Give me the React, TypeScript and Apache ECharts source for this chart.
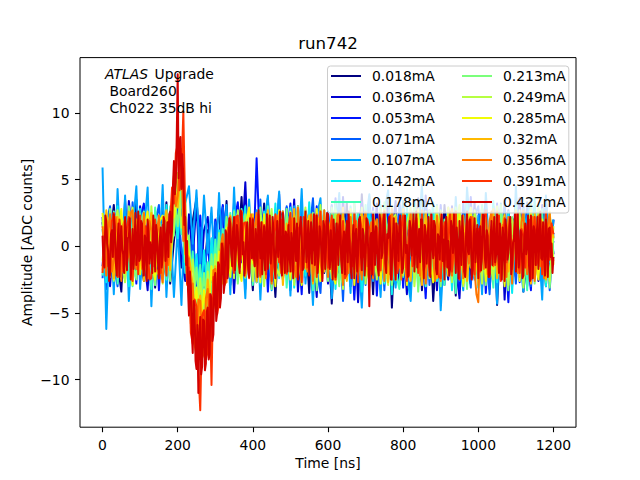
// Pulse scan of one channel: amplitude vs time for 14 injected currents, jet colours,
// legend in two columns over the plot, like the matplotlib original.
import { useEffect, useRef } from 'react'
import * as echarts from 'echarts'

const FONT = 'DejaVu Sans'

const currentLabels = [
  '0.018mA', '0.036mA', '0.053mA', '0.071mA', '0.107mA', '0.142mA', '0.178mA',
  '0.213mA', '0.249mA', '0.285mA', '0.32mA', '0.356mA', '0.391mA', '0.427mA',
]

const jetColors = [
  '#000080', '#0000d1', '#0014ff', '#005cff', '#00a4ff', '#06ecf1', '#41ffb6',
  '#7bff7b', '#b6ff41', '#f1fc06', '#ffb900', '#ff7500', '#ff3200', '#d20000',
]

const xTicks = [0, 200, 400, 600, 800, 1000, 1200]
const yTicks = [-10, -5, 0, 5, 10]

// samples every 10 ns (0..1200)
const wave018 = [
  1.8, -2.1, 0.6, 3.1, -1.2, -3.4, 2.4, 0.3, -1.9, 3.5,
  -0.8, -2.6, 1.5, 2.2, -3.1, 0.9, -1.4, 3.3, -2.8, 0.4,
  2.7, -1.6, 0.8, -3.2, 1.9, 3.6, -0.7, -2.4, 1.2, -3.6,
  0.5, 2.9, -1.8, 3.4, -2.9, 1.1, -0.4, 3.7, -2.2, 0.8,
  -3.3, 2.1, -1.0, 3.2, -2.5, 0.6, -3.8, 1.7, 2.6, -1.3,
  0.2, -2.7, 3.0, -1.5, 1.4, -3.5, 2.3, -0.6, 3.1, -2.0,
  0.9, -4.3, 1.6, 2.8, -1.7, 3.3, -3.0, 0.5, -2.2, 3.9,
  -1.1, 1.8, -3.6, 2.5, 0.1, -2.4, 3.4, -4.6, 1.3, -0.8,
  2.9, -2.6, 0.7, -1.5, 3.6, -3.3, 1.0, 2.2, -4.1, 0.4,
  -2.0, 3.1, -0.9, 1.9, -3.7, 2.6, -1.3, 3.5, -2.8, 0.6,
  1.6, -3.1, 2.4, -0.5, 3.0, -4.4, 1.2, -1.8, 2.7, -2.3,
  0.3, 3.2, -3.4, 1.5, -0.7, 2.9, -2.5, 0.8, -3.0, 1.9,
  -0.6,
]
const wave036 = [
  -1.5, 2.3, -3.0, 0.9, 2.8, -1.1, -2.5, 3.4, 0.2, -2.0,
  3.0, -0.6, -3.3, 1.8, 0.7, -2.2, 3.1, -1.4, 0.5, 2.6,
  1.5, -1.0, -2.6, 2.4, -0.9, 3.3, -3.1, 1.2, 2.2, -1.8,
  -2.9, 0.6, 3.0, -1.6, 2.0, -3.5, 1.4, -0.3, 4.8, -2.1,
  1.1, -2.7, 2.5, -0.8, 3.6, -3.0, 0.4, 1.9, -2.4, 2.9,
  -1.2, 3.5, -3.4, 0.8, -1.7, 2.6, -0.2, -3.8, 2.1, 1.0,
  -2.8, 3.0, -0.5, -2.2, 3.7, -1.6, 0.6, 2.3, -4.2, 1.4,
  2.7, -1.9, -0.4, 3.2, -3.2, 1.7, -2.1, 0.9, 3.4, -2.9,
  0.3, -3.6, 2.6, 1.3, -1.0, -2.7, 3.8, -0.7, 1.6, -3.3,
  2.4, 0.2, -2.5, 3.0, -1.4, -3.9, 2.0, 0.5, -1.7, 3.3,
  -2.6, 1.1, 3.4, -3.2, 0.6, -1.5, 2.8, -4.0, 1.9, 0.1,
  -2.3, 3.6, -1.0, -3.0, 2.2, 0.9, -2.6, 3.1, -0.3, -1.9,
  2.0,
]
const wave053 = [
  2.2, -3.2, 1.0, -0.4, 2.9, -2.3, 3.5, -1.0, 0.7, -2.8,
  2.0, 3.2, -1.7, -0.6, 2.5, -3.3, 1.3, 0.4, -2.0, 3.0,
  1.4, 2.8, -0.8, -2.5, 1.1, -3.0, 2.3, -1.8, 0.1, -2.6,
  2.0, -1.3, 3.1, -0.5, -2.6, 1.8, 3.3, -1.2, 0.6, 2.4,
  -2.2, 6.6, -0.9, 2.7, -3.4, 1.5, -1.1, 3.9, -2.5, 0.8,
  3.2, -2.0, 0.4, -3.6, 2.7, 1.2, -2.8, 3.0, -0.7, -1.9,
  2.5, -3.0, 3.6, -1.4, 0.5, -2.3, 2.0, -4.0, 1.1, 3.3,
  -2.4, 0.7, 2.9, -3.7, 1.6, -0.9, 3.5, -2.2, -0.1, 2.3,
  -3.1, 1.8, -1.2, 3.4, -2.5, 0.6, -3.9, 2.7, 1.0, -1.6,
  3.1, -2.9, 0.8, -0.4, 2.6, -3.2, 1.5, -1.9, 3.7, -2.4,
  0.5, 2.9, -3.5, 1.4, -0.8, 3.2, -2.0, 0.9, -4.2, 2.1,
  1.7, -2.7, 3.0, -0.6, -3.3, 2.4, 1.2, -2.1, 3.5, -1.0,
  0.4,
]
const wave071 = [
  -2.4, 1.6, 3.0, -1.3, -3.0, 2.1, 0.4, -2.6, 3.3, -0.5,
  -1.9, 2.7, 0.2, -3.4, 1.7, 3.1, -1.1, -2.3, 2.5, 1.6,
  3.2, -0.3, -1.2, -3.5, 0.6, -2.8, 1.4, -3.1, 0.9, -1.6,
  1.8, -2.1, 2.9, 0.3, -2.7, 3.4, -1.5, 1.0, -3.2, 2.2,
  0.6, -2.4, 3.5, -1.8, 1.3, -3.1, 2.6, 0.1, -2.0, 3.0,
  -3.3, 1.5, -0.6, 2.8, -2.3, 0.9, 3.6, -1.7, -3.5, 1.9,
  0.4, 3.1, -2.6, 1.2, -4.1, 2.4, -0.8, 3.0, -1.9, 0.7,
  -2.9, 3.7, -1.3, 0.8, 2.2, -3.3, 1.7, -0.5, -2.4, 3.3,
  1.4, -2.0, -3.4, 2.5, 0.3, -1.8, 3.2, -2.9, 0.9, 2.0,
  -3.7, 1.1, 2.8, -1.5, 0.6, -2.6, 3.4, -0.9, -3.1, 2.3,
  3.0, -1.2, 0.4, -3.6, 2.1, 1.2, -2.5, 3.5, -1.7, 0.8,
  -2.8, 2.0, -0.4, 3.3, -3.0, 1.3, 0.5, -2.4, 2.7, -3.3,
  1.0,
]
const wave107 = [
  5.9, -6.2, 2.5, -3.6, 4.3, -1.8, 3.8, -4.1, 1.2, 4.5,
  -3.2, 0.9, 4.4, -4.5, 2.6, -1.5, 4.6, -3.8, 1.8, -3.8,
  1.5, -4.4, 3.2, 4.5, 0.2, 4.2, -1.5, 3.8, -0.5, 2.9,
  -2.5, 4.0, -1.2, 3.1, -3.6, 4.4, -2.2, 1.1, -3.9, 3.5,
  -0.6, 2.7, -4.0, 1.6, 3.8, -3.3, 0.5, 4.1, -2.4, 1.9,
  -3.7, 3.0, -1.0, 4.3, -2.8, 0.7, -4.4, 2.2, 3.6, -1.6,
  2.6, -3.9, 0.3, 4.0, -2.1, 1.4, -3.5, 3.3, -0.2, -4.6,
  1.7, 3.9, -2.6, 0.8, -3.8, 2.5, 4.2, -1.3, -3.1, 1.0,
  3.4, -2.2, -4.1, 2.0, 0.6, 4.6, -3.0, 1.5, -1.9, 3.1,
  -4.8, 0.4, 2.9, -2.7, 3.7, -1.1, -3.3, 4.4, 0.9, -2.5,
  2.3, -3.6, 4.0, -0.7, 1.8, -4.3, 3.2, -1.5, 2.6, -3.0,
  4.5, -0.8, -3.4, 2.1, 3.5, -2.0, 0.7, -4.0, 3.8, -1.2,
  2.0,
]
const wave142 = [
  1.3, -2.7, 2.2, -0.4, 3.0, -1.9, 0.8, -3.0, 2.5, -0.9,
  2.8, -1.6, 0.2, 2.4, -2.9, 1.6, -0.8, 3.1, -1.7, 3.2,
  0.6, 4.1, -2.0, 0.5, -4.3, -0.6, -4.5, -0.3, -3.8, 0.6,
  -3.1, 1.2, -2.4, 2.0, -1.5, 2.7, -2.6, 0.9, 3.0, -2.2,
  1.7, -0.5, -2.8, 2.6, 0.4, -1.8, 3.2, -2.4, 1.1, -0.3,
  2.9, -3.1, 0.7, 1.9, -2.2, 3.3, -1.0, -2.7, 2.3, 0.5,
  -1.4, 2.7, -3.2, 1.3, 0.1, -2.5, 3.0, -0.9, 2.0, -3.4,
  0.8, 2.5, -1.7, -0.5, 3.1, -2.8, 1.6, -3.6, 2.2, 0.3,
  -2.3, 3.0, -0.7, 1.4, -3.0, 2.6, -1.2, 0.6, 3.3, -2.6,
  1.0, -2.0, 2.7, -3.3, 0.4, 1.8, -2.5, 3.2, -1.5, 0.2,
  -3.1, 2.3, 0.8, -1.9, 3.4, -2.7, 1.2, -0.4, 2.5, -3.5,
  1.9, -1.1, 2.8, 0.3, -2.4, 3.6, -1.8, 0.7, -3.0, 2.4,
  -0.5,
]
const wave178 = [
  -2.2, 1.8, -0.6, 2.6, -2.8, 0.9, 2.2, -1.6, -3.0, 1.5,
  2.4, -2.0, 0.6, -3.2, 2.9, -0.8, 1.7, -2.5, 3.0, 0.8,
  4.6, 0.9, 2.3, -3.4, -0.4, -4.8, -1.4, -5.0, -1.2, -3.6,
  0.5, -3.1, 1.3, -2.2, 2.5, -1.3, 0.2, 2.8, -2.4, 1.1,
  -2.9, 2.0, 0.7, -1.5, 3.0, -2.3, 1.2, -0.6, 2.6, -3.1,
  1.5, -1.0, 2.9, -2.6, 0.3, 2.2, -3.3, 1.0, -0.8, 2.7,
  -2.1, 0.8, 3.2, -1.8, -2.9, 1.7, 0.4, -2.4, 2.5, -1.2,
  3.1, -3.0, 1.4, -0.5, 2.3, -2.7, 0.9, 2.8, -1.9, -3.2,
  2.0, 0.6, -2.2, 3.3, -1.4, 0.3, -3.0, 2.4, 1.0, -2.0,
  2.7, -2.9, 0.5, 1.6, -3.5, 2.9, -0.7, -1.8, 2.2, 0.9,
  -2.6, 3.1, -1.1, 0.4, -3.1, 1.9, 2.6, -2.3, 0.6, -1.5,
  3.0, -2.4, 1.3, -3.3, 2.1, 0.2, -1.8, 2.8, -2.7, 1.2,
  -0.9,
]
const wave213 = [
  2.0, -1.4, 2.8, -2.6, 0.5, 1.9, -2.2, 3.0, -0.9, -2.5,
  1.6, 2.6, -1.8, 0.4, -2.9, 2.3, -0.3, 1.4, -2.6, 4.2,
  1.5, 5.0, -1.2, 0.8, -4.6, -1.6, -5.6, -2.0, -5.4, -0.6,
  -3.9, 1.0, -2.5, 2.2, -1.7, 2.6, -2.8, 0.6, 2.4, -2.0,
  0.9, -2.7, 2.9, -0.7, 1.6, -3.2, 2.3, 0.3, -2.4, 2.8,
  -1.2, 0.6, 3.0, -2.8, 1.4, -0.9, 2.5, -3.3, 1.8, 0.1,
  -2.6, 2.9, -0.4, -3.0, 2.2, 1.1, -1.8, 3.2, -2.3, 0.7,
  1.5, -3.1, 2.6, -0.9, -2.2, 3.3, 0.5, -2.9, 1.8, -1.0,
  2.4, -2.5, 0.8, 3.0, -3.4, 1.2, -0.2, 2.7, -2.1, 0.5,
  -3.0, 2.0, 1.3, -2.6, 2.9, -1.4, 0.6, -3.2, 2.5, 1.0,
  -1.9, 2.8, -2.9, 0.9, 1.9, -2.3, 3.1, -0.8, -3.3, 2.2,
  0.4, -2.0, 2.6, -1.3, 3.2, -2.8, 1.1, -0.5, 2.3, -3.1,
  0.8,
]
const wave249 = [
  -1.1, 2.4, -2.3, 1.3, 2.7, -0.8, -2.7, 1.7, 2.9, -1.6,
  -0.4, 2.2, -2.4, 3.0, -1.3, 0.6, -2.8, 2.6, -0.9, 1.3,
  5.5, 1.4, 3.6, -3.6, -1.0, -6.0, -2.4, -6.3, -1.9, -4.8,
  -0.6, -3.6, 0.8, -2.0, 1.9, -2.4, 2.7, -0.5, -2.1, 2.5,
  -2.6, 1.0, 2.3, -3.0, 0.4, 2.8, -1.5, -2.2, 1.7, 0.2,
  2.6, -2.9, 1.1, -0.3, 2.9, -2.1, 0.8, -2.7, 3.1, -1.4,
  0.5, -2.4, 2.7, 1.2, -3.2, 0.3, 2.5, -1.7, -0.6, 2.9,
  -2.8, 1.3, 0.2, -2.5, 2.8, -1.3, -2.9, 1.9, 2.4, -0.7,
  -2.2, 1.7, 2.9, -3.0, 0.6, -1.5, 2.6, -2.4, 0.9, 3.0,
  -1.8, -0.5, 2.2, -2.7, 1.5, 3.1, -3.0, 0.2, -1.6, 2.7,
  0.7, -2.8, 2.4, -1.1, -2.5, 3.0, -0.5, 1.6, -2.9, 2.0,
  -1.2, 2.7, -3.1, 0.8, 1.6, -2.4, 3.1, -1.7, 0.4, -2.6,
  1.5,
]
const wave285 = [
  2.5, -0.9, 1.6, -2.5, 0.7, 2.8, -1.7, 0.2, -2.9, 2.0,
  -2.1, 1.1, 2.6, -1.2, -2.5, 1.8, 2.3, -2.0, 1.9, 2.2,
  4.0, 5.8, 1.4, -0.5, -5.6, -3.1, -6.8, -3.3, -6.4, -1.5,
  -4.6, -0.4, -2.8, 1.4, -2.3, 2.2, -1.2, -2.6, 1.5, 2.9,
  -1.3, 0.3, -2.7, 2.4, -0.8, 1.9, -3.0, 2.7, -1.0, 0.8,
  -2.5, 2.3, -0.2, -2.9, 2.5, 1.1, -1.6, 2.8, -2.6, 0.4,
  1.9, -1.9, -2.8, 2.3, 0.9, -1.2, 2.8, -2.9, 1.3, -0.3,
  2.5, -2.2, 0.6, 2.0, -2.8, 1.0, -0.7, 2.9, -2.5, 1.6,
  0.1, -2.9, 2.2, -1.0, 2.8, -2.3, 1.5, -0.6, -2.7, 2.4,
  1.2, -2.0, 2.9, -1.6, -0.4, 2.5, -2.8, 1.7, 2.9, -2.2,
  -0.7, 2.1, -2.6, 1.4, -1.7, 2.6, 0.5, -3.0, 1.8, -0.3,
  2.4, -2.6, 0.9, -1.8, 2.7, -0.6, -2.5, 2.0, -1.3, 2.6,
  -1.4,
]
const wave320 = [
  -1.8, 2.7, -0.3, -2.4, 2.2, 0.6, -2.0, 2.6, -0.7, 1.4,
  2.0, -2.6, 0.9, 2.5, -1.5, -2.2, 1.3, 2.7, -1.8, 4.8,
  2.9, 6.4, -0.6, -0.8, -2.9, -7.4, -3.7, -7.3, -2.5, -5.9,
  -1.5, -3.7, 0.7, -2.2, 2.3, -1.8, 0.6, 2.6, -2.3, -0.2,
  2.4, -2.6, 1.4, -0.6, 2.7, -2.2, 0.3, 2.5, -2.9, 1.7,
  -0.9, 2.8, -2.4, 0.8, -1.7, 2.3, -2.8, 1.2, 2.6, -1.9,
  0.9, 2.2, -2.5, -0.5, 2.9, -2.6, 1.6, 0.3, -2.3, 2.6,
  -1.2, -2.6, 2.4, 1.0, -1.9, 2.7, -2.7, 0.6, 2.2, -1.6,
  2.8, -1.1, -2.6, 1.9, 0.2, -2.9, 2.5, -0.8, 1.5, -2.4,
  2.6, 0.4, -2.2, 2.8, -1.4, -0.2, 2.3, -2.6, 0.8, 1.9,
  -2.9, 2.2, 0.6, -1.6, 2.8, -2.4, 1.1, 2.4, -1.9, -0.6,
  2.7, -2.3, 1.6, 0.3, -2.8, 2.5, -0.9, 1.8, -2.5, 2.2,
  0.6,
]
// samples every 5 ns (0..1200)
const wave356 = [
  1.5, -0.6, -2.2, 1.3, 2.4, -1.9, -1.0, 2.2, 0.8, -0.3, -2.6, 1.6, 2.1, -1.3, -0.4, 2.5, 2.7, -0.9, -1.7, 1.1,
  0.4, -1.7, 2.5, 0.2, -2.4, 1.9, 1.2, -1.5, -0.6, 1.0, 2.3, -1.8, -2.7, 0.6, 0.9, -1.4, 0.2, 3.8, 5.3, 3.0,
  3.8, 6.6, 7.3, 0.4, 1.0, -2.9, -0.9, -5.8, -2.8, -7.4, -8.2, -4.0, -4.1, -8.4, -8.0, -3.9, -3.2, -7.0, -6.5, -1.8,
  -1.7, -4.8, -4.3, 0.1, 0.9, -2.8, -2.7, 1.6, 2.2, -0.8, -1.9, 2.0, 0.4, -1.5, 2.6, 0.7, -2.0, -0.6, 1.3, 2.4,
  -1.0, 1.4, 2.5, -0.9, -2.3, 1.8, 0.7, -2.4, 2.1, 0.3, -2.8, 0.9, 1.5, 2.3, -0.8, -2.0, 2.6, 0.5, -2.1, 1.2,
  0.6, 2.1, -1.4, -2.3, 2.9, 0.2, -2.5, 1.4, 1.2, -1.9, 0.1, 2.4, -2.6, -0.6, 2.4, 1.0, -1.1, -2.4, 2.7, 0.3,
  -2.3, 0.9, 1.6, -1.6, -0.2, 2.3, 2.5, -0.7, -2.9, 1.1, 0.8, -2.0, 2.2, 0.5, -1.7, 1.9, 0.4, -1.3, -2.5, 2.0,
  2.6, -1.5, -0.6, 1.8, -2.4, -0.3, 2.0, -1.8, 1.1, 2.4, -2.6, 0.4, 0.7, -2.1, 2.8, 0.9, -2.2, 1.5, -0.4, -2.5,
  1.8, 0.2, -2.3, 1.4, 2.5, -0.8, -1.4, 2.1, 0.5, -2.2, 2.7, 0.6, -2.8, -0.5, 1.2, 2.4, -0.9, -2.6, 2.3, 0.7,
  -2.6, 1.2, 0.9, -1.5, 1.7, 2.6, -2.2, 0.4, 2.6, -1.9, -0.8, 1.5, -2.4, 0.1, 2.5, -1.3, 0.3, 2.2, -1.8, -3.6,
  -4.2, 0.8, 2.4, -1.7, 0.8, -2.1, 1.9, 2.6, -1.5, 0.3, 2.6, -1.2, -2.5, 1.6, 0.2, -2.3, 2.2, 1.0, -2.8, 0.5,
  1.0, -2.0, -0.3, 1.8, 2.7, -0.6, -2.1, 0.9, 0.6, 2.2, -2.6, -0.8, 2.3, -1.5, 1.3, -2.4, -1.9, 1.6, 2.5, -0.7,
  -1.1,
]
const wave391 = [
  -2.0, 0.7, 1.2, -1.5, -0.5, 1.9, 2.5, -0.8, -2.3, 2.0, 0.6, -1.9, -1.3, 1.4, 2.2, -0.2, -2.6, 0.9, 1.0, -2.1,
  2.3, -0.6, -1.8, 1.5, 0.3, -2.5, -2.4, 1.1, 2.0, 0.5, -0.7, -2.0, 1.6, 0.4, -2.2, 1.8, 1.9, 4.4, 3.2, 7.0,
  7.6, 4.2, 5.4, 10.1, 2.5, -2.8, -1.6, -6.5, -7.3, -4.0, -4.5, -9.3, -12.3, -5.2, -4.8, -8.5, -7.9, -3.6, -10.4, -2.3,
  -2.4, -5.1, -4.2, -0.6, 0.2, -2.9, -2.2, 1.4, 1.3, -1.2, -2.0, 2.2, 2.3, -1.6, -0.5, 1.7, 1.8, -0.9, -2.4, 0.8,
  2.1, -1.5, -0.9, 2.4, -2.2, 0.4, 1.6, -2.1, 0.3, 1.2, -2.6, 0.6, 2.4, -0.3, -1.2, 2.0, 0.9, -1.8, -2.0, 1.5,
  2.5, -1.9, -0.4, 1.1, 1.4, -0.7, -2.7, 2.2, 2.0, -1.6, -1.0, 0.8, 0.7, 2.3, -2.3, -0.2, 2.6, -1.4, 0.1, 1.9,
  -1.6, 0.5, 2.3, -1.2, -2.5, 1.7, 0.9, -0.4, 1.9, -2.4, -2.1, 1.0, 0.2, -1.5, 2.5, 0.6, -2.7, 2.1, 1.2, -0.8,
  -0.5, 2.0, 1.3, -1.7, -2.2, 0.8, 1.4, -0.3, -1.8, 1.6, 2.6, -1.1, 0.4, 2.3, -2.5, 0.5, 1.7, -2.0, -0.9, 1.4,
  2.3, -0.4, -2.6, 1.2, 0.6, -1.5, 1.5, 2.1, -2.0, 0.3, 2.4, -1.8, -1.3, 0.9, -2.2, 1.6, 1.9, -0.7, 0.2, -2.3,
  -2.4, 0.6, 1.8, -1.0, 0.5, 2.4, -1.9, 0.2, 2.6, -1.3, -2.5, 1.1, 1.0, -2.2, -0.6, 1.8, 2.2, -0.3, -2.1, 1.3,
  1.3, -1.9, -0.8, 2.2, 2.7, -0.5, -2.3, 1.0, 0.5, -1.4, 1.6, 2.3, -2.6, 0.4, 2.1, -1.2, -0.2, 1.7, -1.7, 0.6,
  2.4, -0.7, -2.0, 1.3, 0.8, -1.6, 1.5, 2.0, -2.5, 0.1, 2.2, -1.4, -0.7, 1.9, -2.1, 0.4, 2.6, -0.9, -1.0, 1.7,
  0.9,
]
// the top trace: samples every 2.5 ns (0..1200)
const wave427 = [
  0.8, -1.2, -1.6, 2.3, 1.9, 0.2, -0.4, -2.6, -2.1, 0.9, 1.2, -0.8, 2.4, 1.5, -1.0, -2.2, 0.3, 1.7, -2.3, 0.4,
  1.5, -0.3, -0.6, -2.0, 2.2, 1.0, -1.8, 0.6, 0.7, 2.1, -2.5, -0.9, 1.3, -1.7, 0.1, 2.5, -1.4, -0.5, 2.6, -1.1,
  -0.9, 1.9, 1.7, -1.5, -2.2, 0.8, 0.5, -2.6, 2.0, 1.1, -1.3, 0.3, -0.2, -2.0, 2.3, 0.7, -1.9, 1.6, 0.9, -1.2,
  -2.4, 0.6, 1.4, -1.6, -0.7, 2.2, 1.9, -1.1, 0.2, 1.8, -0.8, 2.4, 2.6, 0.3, 1.2, 4.6, 6.4, 3.9, 4.8, 8.3,
  12.9, 5.1, 7.6, 8.2, 4.3, 6.9, 5.2, 1.6, 2.2, -1.4, 0.4, -3.3, -5.2, -1.9, -2.9, -6.4, -8.0, -4.1, -4.8, -8.6,
  -9.2, -5.9, -11.0, -6.8, -5.3, -9.6, -9.0, -5.5, -5.6, -9.3, -8.8, -4.9, -4.6, -8.5, -8.1, -3.6, -3.9, -7.1, -6.6, -2.5,
  -2.0, -5.6, -5.0, -1.2, -1.4, -4.6, -3.9, 0.2, -0.2, -3.5, -2.8, 1.2, 0.9, -2.4, -1.6, 2.1, 1.7, -0.6, -1.5, 1.4,
  2.2, -1.8, -0.4, 1.6, 1.0, -1.1, -2.0, 2.7, 2.5, -0.6, 0.3, -2.2, -1.2, 0.8, 1.8, -1.5, -2.3, 2.1, 0.7, -0.9,
  2.0, -0.7, -1.5, 1.3, 0.4, -2.3, 2.7, 0.5, -0.9, 1.8, -2.1, -0.2, 1.5, -1.8, 0.6, 2.4, -1.7, 0.2, 2.3, -1.3,
  -0.5, 2.2, 1.2, -1.6, -2.4, 0.6, 1.9, -0.8, 0.1, 2.6, -1.3, -2.2, 2.5, 0.3, -2.0, 1.1, 0.8, -1.9, 1.6, -0.4,
  -1.9, 1.0, 0.3, -2.4, 2.1, 0.6, -1.1, 1.7, -2.5, -0.3, 1.4, 2.2, 0.7, -1.8, -1.6, 0.9, 2.6, -1.2, -0.3, 1.9,
  -2.2, 0.5, 1.8, -1.3, 0.5, 2.4, -1.4, -0.1, 2.3, -2.0, -0.8, 1.5, 1.1, -0.6, -2.6, 1.9, 1.5, -1.7, 0.2, 2.5,
  2.4, -0.9, -1.7, 1.2, -0.4, -2.5, 2.0, 0.4, -2.3, 1.7, 0.9, -1.4, 1.6, 2.3, -1.0, -2.0, 0.4, 1.1, -2.1, 0.6,
  1.9, -1.2, 2.6, 0.3, -1.5, -2.4, 0.2, 1.6, -2.4, 0.8, 1.3, -1.9, -0.6, 2.0, 2.2, -0.7, -1.8, 1.3, 0.8, -2.2,
  -0.9, 2.1, 1.7, -1.0, -4.5, 0.6, 1.0, -2.1, 2.4, 0.7, -1.4, 1.5, 0.3, -1.6, -2.2, 2.4, 1.6, -0.9, -0.5, 1.8,
  2.5, -1.3, -2.0, 0.9, 0.6, 2.2, 1.2, -2.5, -1.3, 0.5, 2.1, -0.8, -2.5, 1.7, 0.4, -1.1, 1.8, 2.3, -0.7, -2.0,
  -1.6, 1.2, 2.3, -0.5, 0.1, -2.3, -2.2, 1.9, 1.4, -0.7, 0.8, 2.5, -1.9, 0.2, 2.6, -1.6, -0.4, 1.3, -1.2, 2.0,
  2.0, -0.6, -2.4, 1.6, 1.1, -1.3, 0.3, 2.2, -1.5, -2.3, 2.4, 0.6, -0.9, 1.9, 1.5, -1.7, -2.1, 0.9, 0.6, -1.0,
  1.7, 2.4, -1.1, 0.5, -2.5, 1.3, 2.2, -1.6, 0.4, -2.2, -1.7, 1.9, 1.2, -0.5, 2.5, 0.8, -2.0, 1.4, -0.2, -2.4,
  1.9, 0.2, -1.4, 2.3, 0.7, -1.9, -2.3, 1.0, 2.6, -0.4, -0.6, 2.0, 1.0, -2.5, -1.8, 0.6, 2.1, -1.2, 0.3, 1.6,
  -2.4, 0.9, 1.5, -1.8, -0.3, 2.4, 2.3, -0.9, -1.6, 1.2, 0.8, -2.3, -2.1, 0.5, 1.9, -1.4, 0.5, 2.2, -1.2, -0.6,
  2.4, -0.4, -2.0, 1.7, 0.2, -2.5, 1.4, 0.6, -2.6, 2.0, 1.1, -1.0, -0.5, 1.5, 2.2, -2.1, -1.3, 0.3, 0.6, 2.4,
  -1.9, 0.4, 2.5, -1.6, -0.8, 1.2, 0.9, -2.4, -2.2, 0.7, 1.7, -0.6, 0.1, 2.3, -1.5, -2.6, 2.3, 0.9, -2.4, 1.5,
  1.2, -1.4, 0.4, 2.2, -1.7, 0.5, 2.6, -0.9, -1.0, 1.8, -0.3, -2.2, 2.0, 0.6, -2.3, 1.3, 1.4, -0.8, 0.2, -2.0,
  -0.8,
]

const waves = [
  wave018, wave036, wave053, wave071, wave107, wave142, wave178,
  wave213, wave249, wave285, wave320, wave356, wave391, wave427,
]

const minus = (v: number) => String(v).replace('-', '\u2212')

export default function App() {
  const ref = useRef<HTMLDivElement>(null)

  useEffect(() => {
    if (!ref.current) return
    const chart = echarts.init(ref.current, undefined, { renderer: 'svg' })

    // each trace spans 0..1200 ns, so the step follows from its sample count
    const series = waves.map((w, i) => {
      const step = 1200 / (w.length - 1)
      return {
        name: currentLabels[i],
        type: 'line',
        z: 2,
        data: w.map((v, k) => [k * step, v]),
        symbol: 'none',
        silent: true,
        lineStyle: { width: 2, color: jetColors[i], join: 'round', cap: 'butt' },
        itemStyle: { color: jetColors[i] },
      }
    })

    const legendCommon = {
      orient: 'vertical',
      z: 6,
      itemGap: 7,
      itemWidth: 30,
      itemHeight: 2,
      icon: 'rect',
      selectedMode: false,
      textStyle: { fontFamily: FONT, fontSize: 13.9, color: '#000', padding: [0, 0, 0, 6] },
    }

    const tickLine = { color: '#000', width: 1.1 }
    const labelText = { fontFamily: FONT, fontSize: 13.9, color: '#000' }

    chart.setOption({
      animation: false,
      backgroundColor: '#fff',
      textStyle: { fontFamily: FONT },
      grid: {
        left: 80, right: 64, top: 57.6, bottom: 52.8,
        show: true, borderColor: '#000', borderWidth: 1, backgroundColor: 'transparent',
      },
      xAxis: {
        type: 'value',
        min: -60,
        max: 1260,
        name: 'Time [ns]',
        nameLocation: 'middle',
        nameGap: 29,
        nameMoveOverlap: false,
        nameTextStyle: labelText,
        axisLine: { show: false, onZero: false },
        splitLine: { show: false },
        axisTick: { customValues: xTicks, length: 5, lineStyle: tickLine },
        axisLabel: { ...labelText, customValues: xTicks, margin: 11, formatter: minus },
      },
      yAxis: {
        type: 'value',
        min: -13.57,
        max: 14.15,
        name: 'Amplitude [ADC counts]',
        nameLocation: 'middle',
        nameGap: 46,
        nameMoveOverlap: false,
        nameTextStyle: labelText,
        axisLine: { show: false, onZero: false },
        splitLine: { show: false },
        axisTick: { customValues: yTicks, length: 5, lineStyle: tickLine },
        axisLabel: { ...labelText, customValues: yTicks, margin: 10.5, formatter: minus },
      },
      // the first legend carries the frame of the whole two-column box
      legend: [
        {
          ...legendCommon,
          left: 327.5,
          top: 66,
          padding: [3, 134, 4, 3.5],
          backgroundColor: 'rgba(255,255,255,0.8)',
          borderColor: '#cccccc',
          borderWidth: 1,
          borderRadius: 3,
          data: currentLabels.slice(0, 7),
        },
        { ...legendCommon, z: 7, left: 462, top: 69, padding: 0, data: currentLabels.slice(7) },
      ],
      graphic: [
        {
          type: 'text', x: 328, y: 43.5, z: 5,
          style: { text: 'run742', fontFamily: FONT, fontSize: 16.67, fill: '#000', align: 'center', verticalAlign: 'middle' },
        },
        {
          type: 'text', x: 105, y: 74, z: 5,
          style: { text: 'ATLAS', fontFamily: FONT, fontStyle: 'italic', fontSize: 13.9, fill: '#000', verticalAlign: 'middle' },
        },
        {
          type: 'text', x: 154.5, y: 74, z: 5,
          style: { text: 'Upgrade', fontFamily: FONT, fontSize: 13.9, fill: '#000', verticalAlign: 'middle' },
        },
        {
          type: 'text', x: 109.4, y: 91, z: 5,
          style: { text: 'Board260', fontFamily: FONT, fontSize: 13.9, fill: '#000', verticalAlign: 'middle' },
        },
        {
          type: 'text', x: 109.4, y: 108, z: 5,
          style: { text: 'Ch022 35dB hi', fontFamily: FONT, fontSize: 13.9, fill: '#000', verticalAlign: 'middle' },
        },
      ],
      series,
    })

    return () => chart.dispose()
  }, [])

  return <div ref={ref} style={{ position: 'fixed', left: 0, top: 0, width: 640, height: 480 }} />
}
